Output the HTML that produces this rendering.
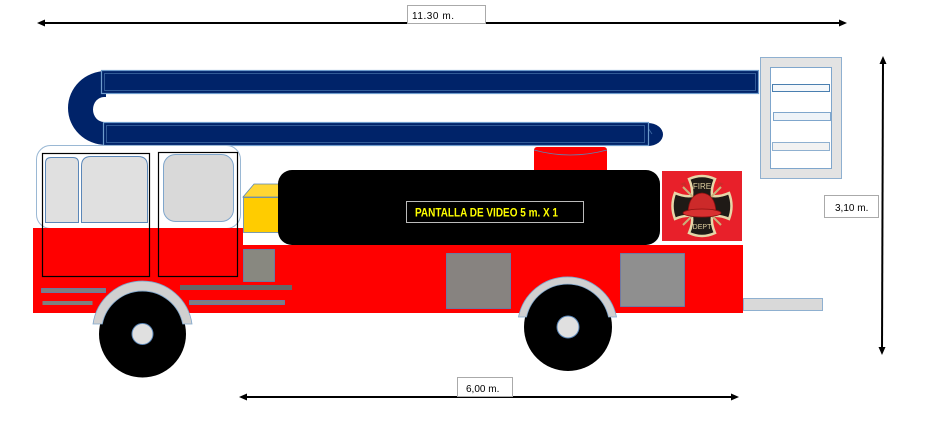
<!DOCTYPE html>
<html><head><meta charset="utf-8"><style>
html,body{margin:0;padding:0;background:#fff;}
svg{display:block;}
text{font-family:"Liberation Sans",sans-serif;}
</style></head><body>
<svg width="925" height="444" viewBox="0 0 925 444" xmlns="http://www.w3.org/2000/svg">
<rect width="925" height="444" fill="#fff"/>

<!-- Top dimension -->
<line x1="42" y1="23" x2="842" y2="23" stroke="#000" stroke-width="2"/>
<polygon points="37,23 45,19.5 45,26.5" fill="#000"/>
<polygon points="847,23 839,19.5 839,26.5" fill="#000"/>
<rect x="407.5" y="5.5" width="78" height="18" fill="#fff" stroke="#aaa"/>
<text x="412" y="19" font-size="10" fill="#000" textLength="42">11.30 m.</text>

<!-- Right dimension -->
<line x1="883" y1="62" x2="882" y2="350" stroke="#000" stroke-width="2"/>
<polygon points="883,56 879.5,64 886.5,64" fill="#000"/>
<polygon points="882,355 878.5,347 885.5,347" fill="#000"/>
<rect x="824.5" y="195.5" width="54" height="22" fill="#fff" stroke="#aaa"/>
<text x="835" y="211" font-size="10" fill="#000">3,10 m.</text>

<!-- Bottom dimension -->
<line x1="244" y1="397" x2="734" y2="397" stroke="#000" stroke-width="2"/>
<polygon points="239,397 247,393.5 247,400.5" fill="#000"/>
<polygon points="739,397 731,393.5 731,400.5" fill="#000"/>
<rect x="457.5" y="377.5" width="55" height="19" fill="#fff" stroke="#aaa"/>
<text x="466" y="392" font-size="10" fill="#000">6,00 m.</text>

<!-- Boom U-bend -->
<path d="M106,71 A38 37 0 0 0 106,145 L106,122 L104,122 A11 12.5 0 0 1 104,97 L106,97 Z" fill="#002369"/>
<!-- Upper boom -->
<rect x="101.5" y="70.5" width="657" height="23" fill="#002369" stroke="#6e9ccc" stroke-width="1.2"/>
<rect x="104.5" y="73.5" width="651" height="17" fill="none" stroke="#3f6aa3" stroke-width="0.8"/>
<!-- Lower boom -->
<path d="M648,123 A15 11.5 0 0 1 648,146 Z" fill="#002369"/>
<line x1="648" y1="128" x2="652" y2="134" stroke="#3f6aa3" stroke-width="0.8"/>
<rect x="103.5" y="122.5" width="545" height="23" fill="#002369" stroke="#6e9ccc" stroke-width="1.2"/>
<rect x="106.5" y="125.5" width="538" height="17" fill="none" stroke="#3f6aa3" stroke-width="0.8"/>

<!-- Basket -->
<rect x="760.5" y="57.5" width="81" height="121" fill="#e3e3e3" stroke="#8fb0d0"/>
<rect x="770.5" y="67.5" width="61" height="101" fill="#fff" stroke="#7fa6cc"/>
<rect x="772.5" y="84.5" width="57" height="7" fill="#f5f8fb" stroke="#4a7fb0"/>
<rect x="773.5" y="112.5" width="57" height="8" fill="#eef3f8" stroke="#7fa6cc"/>
<rect x="772.5" y="142.5" width="57" height="8" fill="#f2f2f2" stroke="#8fb0d0"/>

<!-- Cylinder -->
<rect x="534" y="147" width="73" height="26" rx="3" fill="#ff0000"/>
<path d="M534,150 Q570,160 607,150" fill="none" stroke="#5b87b8" stroke-width="0.8"/>

<!-- Cab outline -->
<rect x="36.5" y="145.5" width="204" height="83" rx="14" fill="#fff" stroke="#9ab8d4"/>

<!-- Red body -->
<rect x="33" y="228" width="210" height="85" fill="#ff0000"/>
<rect x="240" y="245" width="503" height="68" fill="#ff0000"/>

<!-- Windows -->
<path d="M45.5,222.5 L45.5,163 Q45.5,157.5 51,157.5 L73,157.5 Q78.5,157.5 78.5,163 L78.5,222.5 Z" fill="#e0e0e0" stroke="#5b87b8"/>
<path d="M81.5,222.5 L81.5,166 Q81.5,156.5 91,156.5 L138,156.5 Q147.5,156.5 147.5,166 L147.5,222.5 Z" fill="#e0e0e0" stroke="#5b87b8"/>
<rect x="163.5" y="154.5" width="70" height="67" rx="12" fill="#d9d9d9" stroke="#7fa6cc"/>

<!-- Doors -->
<rect x="42.5" y="153.5" width="107" height="123" fill="none" stroke="#000" stroke-width="1.2"/>
<rect x="158.5" y="152.5" width="79" height="124" fill="none" stroke="#000" stroke-width="1.2"/>

<!-- Yellow box -->
<polygon points="243,197 254,184 285,184 285,197" fill="#ffd633" stroke="#5b87b8" stroke-width="0.8"/>
<rect x="243.5" y="197.5" width="40" height="35" fill="#ffcc00" stroke="#5b87b8" stroke-width="0.8"/>

<!-- Small gray square -->
<rect x="243.5" y="249.5" width="31" height="32" fill="#888880" stroke="#5b87b8" stroke-width="0.8"/>

<!-- Stripes -->
<rect x="41.5" y="288.5" width="64" height="4" fill="#7f7f7f" stroke="#5b87b8" stroke-width="0.8"/>
<rect x="42.5" y="301" width="50" height="4" fill="#7f7f7f"/>
<rect x="180" y="285" width="112" height="5" fill="#666"/>
<rect x="189.5" y="300.5" width="95" height="4" fill="#7f7f7f" stroke="#5b87b8" stroke-width="0.8"/>

<!-- Black screen -->
<rect x="278" y="170" width="382" height="75" rx="14" fill="#000"/>
<rect x="406.5" y="201.5" width="177" height="21" fill="#000" stroke="#bbb"/>
<text x="415" y="216.5" font-size="11.5" font-weight="bold" fill="#ffff00" textLength="143" lengthAdjust="spacingAndGlyphs">PANTALLA DE VIDEO 5 m. X  1</text>

<!-- Gray panels -->
<rect x="446.5" y="253.5" width="64" height="55" fill="#878380" stroke="#5b87b8" stroke-width="0.8"/>
<rect x="620.5" y="253.5" width="64" height="53" fill="#8f8f8f" stroke="#5b87b8" stroke-width="0.8"/>

<!-- Bumper -->
<rect x="743.5" y="298.5" width="79" height="12" fill="#d9d9d9" stroke="#8fb0d0"/>

<!-- Badge -->
<rect x="662" y="171" width="80" height="70" fill="#e8202a"/>
<g transform="translate(702,206)">
  <path d="M-13,-27 Q0,-33 13,-27 Q9,-18 10,-10 Q18,-9 27,-13 Q32,0 27,13 Q18,9 10,10 Q9,18 13,27 Q0,33 -13,27 Q-9,18 -10,10 Q-18,9 -27,13 Q-32,0 -27,-13 Q-18,-9 -10,-10 Q-9,-18 -13,-27 Z" fill="#1f1a16" stroke="#e6d6a8" stroke-width="2.5"/>
  <line x1="-19" y1="-19" x2="19" y2="19" stroke="#c9b07a" stroke-width="2"/>
  <line x1="19" y1="-19" x2="-19" y2="19" stroke="#c9b07a" stroke-width="2"/>
  <path d="M-22,-22 l5,-2 l2,5 z M22,-22 l-5,-2 l-2,5 z" fill="#cc2a2a"/>
  <path d="M-14,6 Q-13,-12 0,-13 Q13,-12 14,6 Z" fill="#cc2a2a" stroke="#8a1010" stroke-width="0.8"/>
  <ellipse cx="0" cy="7" rx="19" ry="4" fill="#d83030" stroke="#8a1010" stroke-width="0.8"/>
  <text x="0" y="-17" font-size="8" fill="#e0d0a0" text-anchor="middle" font-family="Liberation Serif, serif">FIRE</text>
  <text x="0" y="23" font-size="7" fill="#e0d0a0" text-anchor="middle" font-family="Liberation Serif, serif">DEPT</text>
</g>

<!-- Front wheel -->
<circle cx="142.5" cy="334" r="43.5" fill="#000"/>
<circle cx="142.5" cy="334" r="10.5" fill="#e0e0e0" stroke="#5b87b8"/>
<path d="M93,324 A50 50 0 0 1 192,324 L182.7,324 A41 41 0 0 0 102.3,324 Z" fill="#d0d0d0" stroke="#7fa6cc" stroke-width="0.8"/>

<!-- Rear wheel -->
<circle cx="568" cy="327" r="44" fill="#000"/>
<circle cx="568" cy="327" r="11" fill="#e0e0e0" stroke="#5b87b8"/>
<path d="M518.5,317 A50 50 0 0 1 616.5,317 L608.5,317 A42 42 0 0 0 526.5,317 Z" fill="#d0d0d0" stroke="#7fa6cc" stroke-width="0.8"/>
</svg>
</body></html>
